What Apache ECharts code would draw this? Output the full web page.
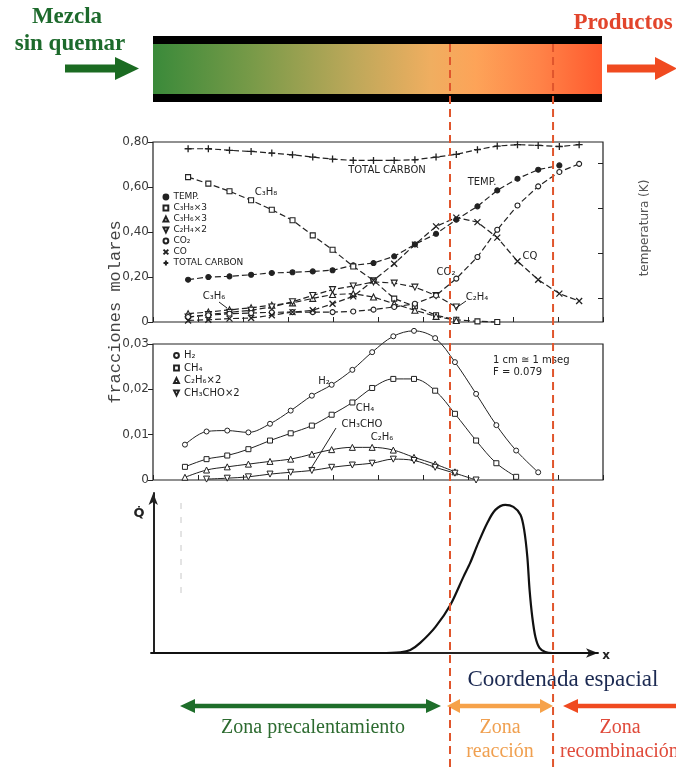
<!DOCTYPE html>
<html>
<head>
<meta charset="utf-8">
<script src="https://cdn.jsdelivr.net/npm/echarts@6/dist/echarts.min.js"></script>
<style>
html,body{margin:0;padding:0;background:#fff;}
#c{width:676px;height:772px;}
</style>
</head>
<body>
<div id="c"></div>
<script>
// ---------- DATA (distance in cm, 1 cm ≈ 1 mseg) ----------
const xsTop = [0.78,1.23,1.70,2.18,2.64,3.10,3.55,3.99,4.45,4.90,5.36,5.82,6.29,6.74,7.21,7.65,8.10,8.56,9.03,9.47];
const totalCarbon = [0.770,0.770,0.763,0.758,0.751,0.743,0.733,0.724,0.718,0.718,0.718,0.721,0.733,0.745,0.766,0.782,0.788,0.785,0.780,0.788];
const temp   = [0.188,0.200,0.203,0.210,0.218,0.221,0.225,0.230,0.252,0.262,0.292,0.345,0.392,0.455,0.514,0.585,0.637,0.677,0.696,null];
const c3h8x3 = [0.644,0.615,0.581,0.541,0.499,0.452,0.385,0.321,0.247,0.185,0.104,0.070,0.030,0.010,0.003,0.000,null,null,null,null];
const c3h6x3 = [0.037,0.044,0.054,0.063,0.075,0.085,0.105,0.122,0.126,0.111,0.081,0.052,0.025,0.007,null,null,null,null,null,null];
const c2h4x2 = [0.022,0.033,0.043,0.052,0.067,0.090,0.118,0.144,0.160,0.178,0.173,0.155,0.118,0.067,null,null,null,null,null,null];
const co2    = [0.022,0.030,0.037,0.040,0.043,0.044,0.044,0.044,0.047,0.055,0.067,0.081,0.118,0.193,0.289,0.410,0.518,0.603,0.667,0.703];
const co     = [0.007,0.010,0.015,0.018,0.030,0.044,0.052,0.081,0.114,0.185,0.259,0.344,0.425,0.464,0.444,0.375,0.270,0.188,0.126,0.093];

const xsMid = [0.71,1.19,1.65,2.12,2.60,3.06,3.53,3.97,4.43,4.87,5.34,5.80,6.27,6.71,7.18,7.63,8.07,8.56];
const h2       = [0.0078,0.0107,0.0109,0.0105,0.0124,0.0153,0.0186,0.0210,0.0243,0.0282,0.0317,0.0329,0.0313,0.0260,0.0190,0.0121,0.0065,0.0017];
const ch4      = [0.0029,0.0046,0.0054,0.0068,0.0087,0.0103,0.0120,0.0144,0.0171,0.0203,0.0223,0.0223,0.0197,0.0146,0.0087,0.0037,0.0007,null];
const c2h6x2   = [0.0006,0.0022,0.0029,0.0035,0.0041,0.0046,0.0057,0.0067,0.0072,0.0072,0.0066,0.0050,0.0035,0.0018,null,null,null,null];
const ch3chox2 = [null,0.0002,0.0004,0.0007,0.0013,0.0017,0.0021,0.0028,0.0033,0.0037,0.0046,0.0043,0.0028,0.0015,0.0000,null,null,null];

const qX = [-0.05,3.00,5.04,5.49,5.71,5.93,6.27,6.60,6.89,7.04,7.22,7.42,7.60,7.82,8.00,8.16,8.24,8.31,8.36,8.42,8.49,8.58,8.71,8.87,9.88];
const qY = [0,0,0,0.005,0.020,0.068,0.176,0.324,0.514,0.608,0.743,0.878,0.966,1.000,0.986,0.932,0.831,0.649,0.426,0.243,0.108,0.034,0.007,0,0];

const topTicks = [0,0.2,0.4,0.6,0.8];
const midTicks = [0,0.01,0.02,0.03];
const tempAxisTicks = [0.133,0.383,0.633,0.883];
const zoneBounds = [6.60, 8.89];

// ---------- helpers ----------
function pairs(xs, ys){ const out=[]; xs.forEach((x,i)=>{ if(ys[i]!=null) out.push([x,ys[i]]); }); return out; }
const INK = '#222';
const fmt = v => v===0 ? '0' : v.toFixed(2).replace('.',',');
const X_SYM = 'path://M0,0L10,10M10,0L0,10';
const P_SYM = 'path://M5,0L5,10M0,5L10,5';

function topSeries(name, ys, symbol, size, fill, extra){
  return Object.assign({
    name, type:'line', xAxisIndex:0, yAxisIndex:0, data:pairs(xsTop, ys),
    symbol, symbolSize:size, clip:false, animation:false,
    itemStyle:{color:fill, borderColor:INK, borderWidth:1.1},
    lineStyle:{color:INK, width:1.2, type:[6,3]}
  }, extra||{});
}
function midSeries(name, ys, symbol, size, extra){
  return Object.assign({
    name, type:'line', xAxisIndex:1, yAxisIndex:2, data:pairs(xsMid, ys),
    symbol, symbolSize:size, clip:false, animation:false, smooth:0.35,
    itemStyle:{color:'#fff', borderColor:INK, borderWidth:1},
    lineStyle:{color:INK, width:1}
  }, extra||{});
}

const chart = echarts.init(document.getElementById('c'), null, {renderer:'canvas'});
const axisFont = {fontSize:12, color:'#3a3a3a', fontFamily:'DejaVu Sans', margin:4};

chart.setOption({
  backgroundColor:'#fff',
  animation:false,
  grid:[
    {left:153, top:142, width:450, height:180, show:true, borderColor:INK, borderWidth:1.2},
    {left:153, top:344, width:450, height:136, show:true, borderColor:INK, borderWidth:1.2},
    {left:151, top:493, width:447, height:160, show:false}
  ],
  xAxis:[
    {gridIndex:0, type:'value', min:0, max:10, interval:1, axisLine:{show:false},
     axisTick:{show:true, inside:true, length:5, lineStyle:{color:INK}}, axisLabel:{show:false}, splitLine:{show:false}},
    {gridIndex:1, type:'value', min:0, max:10, interval:1, axisLine:{show:false},
     axisTick:{show:true, inside:true, length:5, lineStyle:{color:INK}}, axisLabel:{show:false}, splitLine:{show:false}},
    {gridIndex:2, type:'value', min:qX[0], max:qX[qX.length-1],
     axisLine:{show:true, symbol:['none','arrow'], symbolSize:[7,12], lineStyle:{color:INK, width:2}},
     axisTick:{show:false}, axisLabel:{show:false}, splitLine:{show:false}}
  ],
  yAxis:[
    {gridIndex:0, type:'value', min:topTicks[0], max:topTicks[topTicks.length-1], interval:0.2,
     axisLine:{show:false}, axisTick:{show:true, length:5, lineStyle:{color:INK}},
     axisLabel:Object.assign({formatter:fmt}, axisFont), splitLine:{show:false}},
    {gridIndex:0, type:'value', position:'right', min:0, max:1,
     axisLine:{show:false}, axisTick:{show:true, inside:true, length:5, customValues:tempAxisTicks, lineStyle:{color:INK}},
     axisLabel:{show:false}, splitLine:{show:false}},
    {gridIndex:1, type:'value', min:midTicks[0], max:midTicks[midTicks.length-1], interval:0.01,
     axisLine:{show:false}, axisTick:{show:true, length:5, lineStyle:{color:INK}},
     axisLabel:Object.assign({formatter:fmt}, axisFont), splitLine:{show:false}},
    {gridIndex:2, type:'value', min:0, max:1.08,
     axisLine:{show:true, symbol:['none','arrow'], symbolSize:[7,12], lineStyle:{color:INK, width:2}},
     axisTick:{show:false}, axisLabel:{show:false}, splitLine:{show:false}}
  ],
  legend:[
    {data:['TEMP.','C₃H₈×3','C₃H₆×3','C₂H₄×2','CO₂','CO','TOTAL CARBON'],
     orient:'vertical', left:161, top:192, padding:0, itemWidth:7, itemHeight:6, itemGap:1,
     selectedMode:false, lineStyle:{width:0, opacity:0},
     textStyle:{fontSize:9, lineHeight:10, color:INK, fontFamily:'DejaVu Sans', padding:[0,0,0,-1]}},
    {data:['H₂','CH₄','C₂H₆×2','CH₃CHO×2'],
     orient:'vertical', left:173, top:350, padding:0, itemWidth:7, itemHeight:6, itemGap:1.5,
     selectedMode:false, lineStyle:{width:0, opacity:0},
     textStyle:{fontSize:10, lineHeight:11, color:INK, fontFamily:'DejaVu Sans', padding:[0,0,0,-1]}}
  ],
  series:[
    topSeries('TEMP.', temp, 'circle', 5, INK),
    topSeries('C₃H₈×3', c3h8x3, 'rect', 5, '#fff'),
    topSeries('C₃H₆×3', c3h6x3, 'triangle', 6, '#fff'),
    topSeries('C₂H₄×2', c2h4x2, 'triangle', 6, '#fff', {symbolRotate:180}),
    topSeries('CO₂', co2, 'circle', 5, '#fff'),
    topSeries('CO', co, X_SYM, 6, 'none', {itemStyle:{color:'none', borderColor:INK, borderWidth:1.3}}),
    topSeries('TOTAL CARBON', totalCarbon, P_SYM, 7, 'none', {itemStyle:{color:'none', borderColor:INK, borderWidth:1.3}}),
    midSeries('H₂', h2, 'circle', 5),
    midSeries('CH₄', ch4, 'rect', 5),
    midSeries('C₂H₆×2', c2h6x2, 'triangle', 6),
    midSeries('CH₃CHO×2', ch3chox2, 'triangle', 6, {symbolRotate:180}),
    {name:'Q', type:'line', xAxisIndex:2, yAxisIndex:3, data:pairs(qX,qY), symbol:'none',
     smooth:0.3, clip:false, animation:false,
     lineStyle:{color:'#111', width:2.2}}
  ]
});

// ---------- annotations ----------
const zx = zoneBounds.map(v => chart.convertToPixel({xAxisIndex:0}, v));
const serif = '"Liberation Serif", "DejaVu Serif", serif';
const sans = '"DejaVu Sans", sans-serif';
function T(text, x, y, font, fill, extra, align){
  return Object.assign({type:'text', x, y, z:50, style:{text, font, fill, align:align||'center', verticalAlign:'middle'}}, extra||{});
}
function tri(p, fill){ return {type:'polygon', z:40, shape:{points:p}, style:{fill}}; }
function bar(x1,x2,y,w,color){ return {type:'line', z:40, shape:{x1,y1:y,x2,y2:y}, style:{stroke:color, lineWidth:w}}; }

const G = [];
// gradient tube
G.push({type:'rect', z:10, shape:{x:153,y:36,width:449,height:66}, style:{fill:'#000'}});
G.push({type:'rect', z:11, shape:{x:153,y:44,width:449,height:50}, style:{fill:new echarts.graphic.LinearGradient(0,0,1,0,[
  {offset:0,color:'#3a8a3a'},{offset:0.22,color:'#789a48'},{offset:0.45,color:'#bea85a'},
  {offset:0.62,color:'#f0ae60'},{offset:0.72,color:'#fda358'},{offset:0.86,color:'#ff8348'},{offset:1,color:'#ff5a2e'}])}});
// top texts and arrows
G.push(T('Mezcla', 67, 17, 'bold 23px '+serif, '#1d6a2c'));
G.push(T('sin quemar', 70, 44, 'bold 23px '+serif, '#1d6a2c'));
G.push(bar(65,118,68.5,8,'#1b6b22'));
G.push(tri([[115,57],[139,68.5],[115,80]], '#1b6b22'));
G.push(T('Productos', 623, 23, 'bold 23px '+serif, '#e2452c'));
G.push(bar(607,657,68.5,8,'#f04a20'));
G.push(tri([[655,57],[677,68.5],[655,80]], '#f04a20'));
// axis titles
G.push(T('fracciones molares', 115, 312, '17px "Liberation Mono", "DejaVu Sans Mono", monospace', '#444', {rotation:Math.PI/2}));
G.push(T('temperatura (K)', 645, 228, '12px '+sans, '#555', {rotation:Math.PI/2}));
// top panel labels
const lf = '10px '+sans;
G.push(T('TOTAL CARBON', 387, 170, lf, INK));
G.push(T('C₃H₈', 266, 192, lf, INK));
G.push(T('TEMP.', 482, 182, lf, INK));
G.push(T('CQ', 530, 256, lf, INK));
G.push(T('CO₂', 446, 272, lf, INK));
G.push(T('C₂H₄', 477, 297, lf, INK));
G.push(T('C₃H₆', 214, 296, lf, INK));
G.push({type:'line', z:40, shape:{x1:466,y1:301,x2:456,y2:308}, style:{stroke:INK, lineWidth:1}});
G.push({type:'line', z:40, shape:{x1:219,y1:302,x2:227,y2:308}, style:{stroke:INK, lineWidth:1}});
// middle panel labels
G.push(T('H₂', 324, 381, lf, INK));
G.push(T('CH₄', 365, 408, lf, INK));
G.push(T('CH₃CHO', 362, 424, lf, INK));
G.push(T('C₂H₆', 382, 437, lf, INK));
G.push({type:'line', z:40, shape:{x1:336,y1:428,x2:310,y2:470}, style:{stroke:INK, lineWidth:1}});
G.push(T('1 cm ≅ 1 mseg', 493, 360, '10px '+sans, INK, null, 'left'));
G.push(T('F = 0.079', 493, 372, '10px '+sans, INK, null, 'left'));
// bottom panel labels
G.push(T('Q̇', 139, 514, 'bold 13px '+sans, INK));
G.push(T('x', 606, 656, 'bold 12px '+sans, INK));
G.push({type:'line', z:5, shape:{x1:181,y1:503,x2:181,y2:595}, style:{stroke:'#c8c8c8', lineWidth:1, lineDash:[6,8]}});
// zone texts and arrows
G.push(T('Coordenada espacial', 563, 680, '23px '+serif, '#1c2a52'));
G.push(bar(190,430,706,4.5,'#1e6e2a'));
G.push(tri([[180,706],[195,699],[195,713]], '#1e6e2a'));
G.push(tri([[441,706],[426,699],[426,713]], '#1e6e2a'));
G.push(T('Zona precalentamiento', 313, 728, '20px '+serif, '#2d6b30'));
G.push(bar(456,544,706,4.5,'#f6a24a'));
G.push(tri([[447,706],[460,699],[460,713]], '#f6a24a'));
G.push(tri([[553,706],[540,699],[540,713]], '#f6a24a'));
G.push(T('Zona', 500, 728, '20px '+serif, '#f0a050'));
G.push(T('reacción', 500, 752, '20px '+serif, '#f0a050'));
G.push(bar(574,676,706,4.5,'#f04a20'));
G.push(tri([[563,706],[578,699],[578,713]], '#f04a20'));
G.push(T('Zona', 620, 728, '20px '+serif, '#e04a3a'));
G.push(T('recombinación', 560, 752, '20px '+serif, '#e04a3a', null, 'left'));
// zone boundaries
zx.forEach(x => G.push({type:'line', z:100, shape:{x1:x,y1:44,x2:x,y2:772}, style:{stroke:'#e0552c', lineWidth:2, lineDash:[8,5]}}));

chart.setOption({graphic:G});
</script>
</body>
</html>
